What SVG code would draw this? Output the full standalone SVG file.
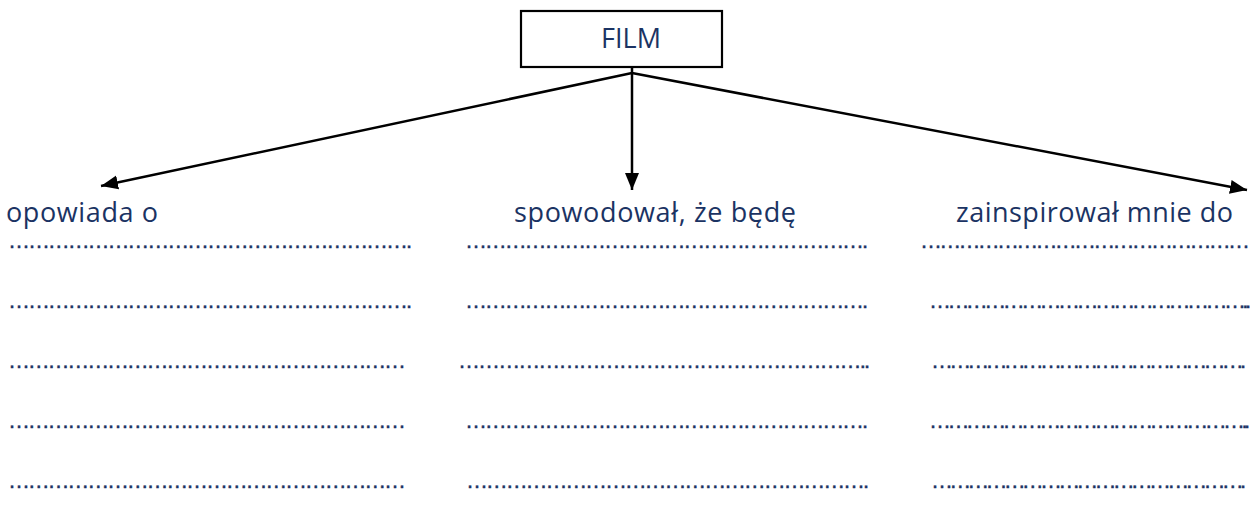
<svg xmlns="http://www.w3.org/2000/svg" width="1251" height="516" viewBox="0 0 1251 516">
<defs>
<style>
.lbl{font-family:"Open Sans","Noto Sans","Liberation Sans",sans-serif;font-size:27px;fill:#1B3363}
.dots{font-family:"Liberation Sans",Arial,sans-serif;font-size:22px;fill:#1B3363;stroke:#1B3363;stroke-width:0.45}
.con{stroke:#000;stroke-width:2.5;fill:none}
.box{fill:#fff;stroke:#000;stroke-width:2.2}
</style>
<marker id="ah" markerUnits="userSpaceOnUse" markerWidth="18" markerHeight="16" viewBox="0 0 18 16" refX="17" refY="8" orient="auto">
<path d="M0,1 L17,8 L0,15 Z" fill="#000"/>
</marker>
</defs>
<rect width="1251" height="516" fill="#fff"/>
<g id="connectors">
<line class="con" x1="632" y1="67" x2="632" y2="190" marker-end="url(#ah)"/>
<line class="con" x1="632" y1="73" x2="101" y2="186" marker-end="url(#ah)"/>
<line class="con" x1="632" y1="73" x2="1247" y2="190" marker-end="url(#ah)"/>
</g>
<g id="film">
<rect class="box" x="521" y="11" width="201" height="56"/>
<text class="lbl" x="631" y="48" text-anchor="middle">FILM</text>
</g>
<g id="opowiada">
<text class="lbl" x="6" y="222" textLength="152" lengthAdjust="spacing">opowiada o</text>
<text class="dots" x="8" y="248" textLength="404" lengthAdjust="spacing">…………………………………………………….</text>
<text class="dots" x="8" y="308" textLength="404" lengthAdjust="spacing">…………………………………………………….</text>
<text class="dots" x="8" y="368" textLength="398" lengthAdjust="spacing">……………………………………………………</text>
<text class="dots" x="8" y="428" textLength="398" lengthAdjust="spacing">……………………………………………………</text>
<text class="dots" x="8" y="488" textLength="398" lengthAdjust="spacing">……………………………………………………</text>
</g>
<g id="spowodowal">
<text class="lbl" x="514" y="222" textLength="282" lengthAdjust="spacing">spowodował, że będę</text>
<text class="dots" x="465" y="248" textLength="403" lengthAdjust="spacing">…………………………………………………….</text>
<text class="dots" x="465" y="308" textLength="403" lengthAdjust="spacing">…………………………………………………….</text>
<text class="dots" x="458" y="368" textLength="412" lengthAdjust="spacing">……………………………………………………..</text>
<text class="dots" x="465" y="428" textLength="403" lengthAdjust="spacing">…………………………………………………….</text>
<text class="dots" x="466" y="488" textLength="403" lengthAdjust="spacing">…………………………………………………….</text>
</g>
<g id="zainspirowal">
<text class="lbl" x="956" y="222" textLength="277" lengthAdjust="spacing">zainspirował mnie do</text>
<text class="dots" x="920" y="248" textLength="330" lengthAdjust="spacing">……………………………………………</text>
<text class="dots" x="929" y="308" textLength="322" lengthAdjust="spacing">……………………………………………..</text>
<text class="dots" x="931" y="368" textLength="315" lengthAdjust="spacing">…………………………………………….</text>
<text class="dots" x="929" y="428" textLength="321" lengthAdjust="spacing">……………………………………………..</text>
<text class="dots" x="931" y="488" textLength="315" lengthAdjust="spacing">…………………………………………….</text>
</g>
</svg>
